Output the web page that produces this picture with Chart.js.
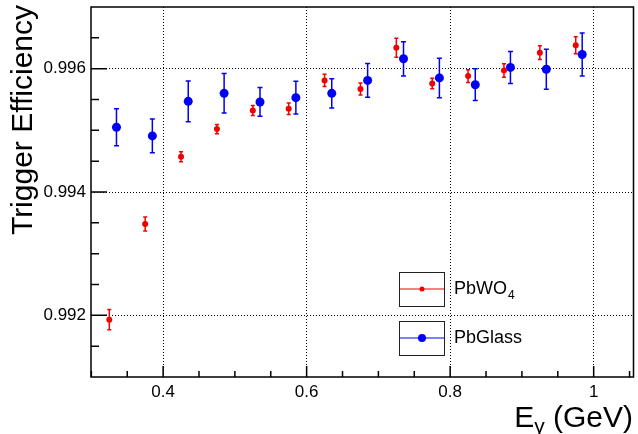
<!DOCTYPE html>
<html>
<head>
<meta charset="utf-8">
<script src="https://cdn.jsdelivr.net/npm/chart.js@4/dist/chart.umd.min.js"></script>
<style>
  body { margin: 0; background: #fff; }
  #wrap { width: 638px; height: 434px; }
</style>
</head>
<body>
<div id="wrap"><canvas id="effChart" width="638" height="434"></canvas></div>
<script>
// photon energy (GeV) per bin, the two calorimeters are drawn slightly shifted
const energyPbWO4 = [0.325, 0.375, 0.425, 0.475, 0.525, 0.575, 0.625, 0.675, 0.725, 0.775, 0.825, 0.875, 0.925, 0.975];
const energyPbGlass = [0.335, 0.385, 0.435, 0.485, 0.535, 0.585, 0.635, 0.685, 0.735, 0.785, 0.835, 0.884, 0.934, 0.984];

const effPbWO4 = [0.99193, 0.99348, 0.99457, 0.99502, 0.99532, 0.99535, 0.99581, 0.99567, 0.99634, 0.99576, 0.99588, 0.99597, 0.99626, 0.99638];
const errPbWO4 = [0.000163, 0.000114, 0.000081, 0.000076, 0.000081, 0.000093, 0.000098, 0.000098, 0.000155, 0.000086, 0.000103, 0.000111, 0.000111, 0.000138];

const effPbGlass = [0.99505, 0.99491, 0.99547, 0.99560, 0.99546, 0.99553, 0.99560, 0.99581, 0.99616, 0.99585, 0.99574, 0.99602, 0.99599, 0.99623];
const errPbGlass = [0.000301, 0.000273, 0.00033, 0.00032, 0.000233, 0.000264, 0.000236, 0.000273, 0.000277, 0.00032, 0.000257, 0.00026, 0.000325, 0.00035];

const xTicks = [0.4, 0.6, 0.8, 1.0];
const yTicks = [0.992, 0.994, 0.996];

const RED = '#f00000';
const BLUE = '#0000f5';
const FONT = 'Liberation Sans, Arial, sans-serif';

const toPoints = (xs, ys) => xs.map((x, i) => ({ x: x, y: ys[i] }));

// vertical error bars with small caps, drawn through the chart scales
const errorBarsPlugin = {
    id: 'errorBars',
    beforeDatasetsDraw(chart) {
        const { ctx } = chart;
        const xs = chart.scales.x;
        const ys = chart.scales.y;
        chart.data.datasets.forEach((ds) => {
            ctx.save();
            ctx.strokeStyle = ds.errColor;
            ctx.lineWidth = 1.5;
            ds.data.forEach((p, i) => {
                const px = xs.getPixelForValue(p.x);
                const top = ys.getPixelForValue(p.y + ds.errors[i]);
                const bot = ys.getPixelForValue(p.y - ds.errors[i]);
                const cap = ds.capWidth;
                ctx.beginPath();
                ctx.moveTo(px, top);
                ctx.lineTo(px, bot);
                ctx.moveTo(px - cap, top);
                ctx.lineTo(px + cap, top);
                ctx.moveTo(px - cap, bot);
                ctx.lineTo(px + cap, bot);
                ctx.stroke();
            });
            ctx.restore();
        });
    },
};

// ROOT style frame: ticks inside the box, titles, legend boxes
const framePlugin = {
    id: 'rootFrame',
    afterDraw(chart) {
        const { ctx, chartArea } = chart;
        const { left, right, top, bottom } = chartArea;
        const xs = chart.scales.x;
        const ys = chart.scales.y;

        ctx.save();
        ctx.strokeStyle = '#000';
        ctx.lineWidth = 1.5;
        ctx.strokeRect(left, top, right - left, bottom - top);

        // x ticks every 0.05, major every 0.2
        ctx.beginPath();
        for (let k = 6; k <= 21; k++) {
            const v = k * 0.05;
            const px = xs.getPixelForValue(v);
            if (px < left || px > right) continue;
            const major = k % 4 === 0;
            ctx.moveTo(px, bottom);
            ctx.lineTo(px, bottom - (major ? 11 : 6));
        }
        // y ticks every 0.0005, major every 0.002
        for (let k = 0; k <= 12; k++) {
            const v = 0.991 + k * 0.0005;
            const py = ys.getPixelForValue(v);
            if (py < top + 1 || py > bottom - 1) continue;
            const major = (k - 2) % 4 === 0;
            ctx.moveTo(left, py);
            ctx.lineTo(left + (major ? 16 : 8), py);
        }
        ctx.stroke();

        // y title
        ctx.fillStyle = '#000';
        ctx.font = '30px ' + FONT;
        ctx.textBaseline = 'alphabetic';
        ctx.translate(32, 5);
        ctx.rotate(-Math.PI / 2);
        ctx.textAlign = 'right';
        ctx.fillText('Trigger Efficiency', 0, 0);
        ctx.setTransform(1, 0, 0, 1, 0, 0);

        // x title with subscript gamma
        const big = '30px ' + FONT;
        const small = '21px ' + FONT;
        ctx.textAlign = 'left';
        ctx.font = big;
        const wE = ctx.measureText('E').width;
        const wRest = ctx.measureText(' (GeV)').width;
        ctx.font = small;
        const wG = ctx.measureText('\u03b3').width;
        const x0 = 633 - (wE + wG + wRest);
        const base = 427;
        ctx.font = big;
        ctx.fillText('E', x0, base);
        ctx.font = small;
        ctx.fillText('\u03b3', x0 + wE, base + 6);
        ctx.font = big;
        ctx.fillText(' (GeV)', x0 + wE + wG, base);

        // legend
        const entries = [
            { label: 'PbWO', sub: '4', color: RED, r: 2.5, y0: 272 },
            { label: 'PbGlass', sub: '', color: BLUE, r: 4, y0: 321 },
        ];
        entries.forEach((e) => {
            const bx = 399, bw = 45, bh = 34;
            const cy = e.y0 + bh / 2;
            ctx.strokeStyle = '#222';
            ctx.lineWidth = 1;
            ctx.strokeRect(bx + 0.5, e.y0 + 0.5, bw, bh);
            ctx.strokeStyle = e.color;
            ctx.lineWidth = 1.2;
            ctx.beginPath();
            ctx.moveTo(bx + 1, cy);
            ctx.lineTo(bx + bw, cy);
            ctx.stroke();
            ctx.fillStyle = e.color;
            ctx.beginPath();
            ctx.arc(bx + bw / 2 + 0.5, cy, e.r, 0, Math.PI * 2);
            ctx.fill();
            ctx.fillStyle = '#000';
            ctx.font = '18px ' + FONT;
            ctx.textBaseline = 'middle';
            ctx.fillText(e.label, 454, cy);
            if (e.sub) {
                const w = ctx.measureText(e.label).width;
                ctx.font = '12px ' + FONT;
                ctx.fillText(e.sub, 454 + w + 1, cy + 7);
            }
        });
        ctx.restore();
    },
};

const config = {
    type: 'scatter',
    data: {
        datasets: [
            {
                label: 'PbWO4',
                data: toPoints(energyPbWO4, effPbWO4),
                errors: errPbWO4,
                errColor: RED,
                capWidth: 2,
                pointRadius: 3,
                pointHoverRadius: 3,
                pointBackgroundColor: RED,
                pointBorderWidth: 0,
            },
            {
                label: 'PbGlass',
                data: toPoints(energyPbGlass, effPbGlass),
                errors: errPbGlass,
                errColor: BLUE,
                capWidth: 2.5,
                pointRadius: 4.5,
                pointHoverRadius: 4.5,
                pointBackgroundColor: BLUE,
                pointBorderWidth: 0,
            },
        ],
    },
    options: {
        responsive: false,
        animation: false,
        layout: { padding: { left: 0, top: 7, right: 4, bottom: 0 } },
        plugins: {
            legend: { display: false },
            tooltip: { enabled: false },
        },
        scales: {
            x: {
                type: 'linear',
                min: 0.2995,
                max: 1.0555,
                afterBuildTicks: (scale) => { scale.ticks = xTicks.map((v) => ({ value: v })); },
                afterFit: (scale) => {
                    scale.height = 57;
                    scale.paddingLeft = 0;
                    scale.paddingRight = 0;
                },
                grid: { color: '#000', lineWidth: 1, drawTicks: false },
                border: { display: false, dash: [1, 2] },
                ticks: {
                    padding: 5,
                    color: '#000',
                    font: { family: FONT, size: 17 },
                    maxRotation: 0,
                    callback: (v) => (Math.abs(v - 1) < 1e-9 ? '1' : v.toFixed(1)),
                },
            },
            y: {
                type: 'linear',
                min: 0.991,
                max: 0.997,
                afterBuildTicks: (scale) => { scale.ticks = yTicks.map((v) => ({ value: v })); },
                afterFit: (scale) => {
                    scale.width = 91;
                    scale.paddingTop = 0;
                    scale.paddingBottom = 0;
                },
                grid: { color: '#000', lineWidth: 1, drawTicks: false },
                border: { display: false, dash: [1, 2] },
                ticks: {
                    padding: 5,
                    color: '#000',
                    font: { family: FONT, size: 17 },
                    callback: (v) => v.toFixed(3),
                },
            },
        },
    },
    plugins: [errorBarsPlugin, framePlugin],
};

const effChart = new Chart(document.getElementById('effChart'), config);
</script>
</body>
</html>
